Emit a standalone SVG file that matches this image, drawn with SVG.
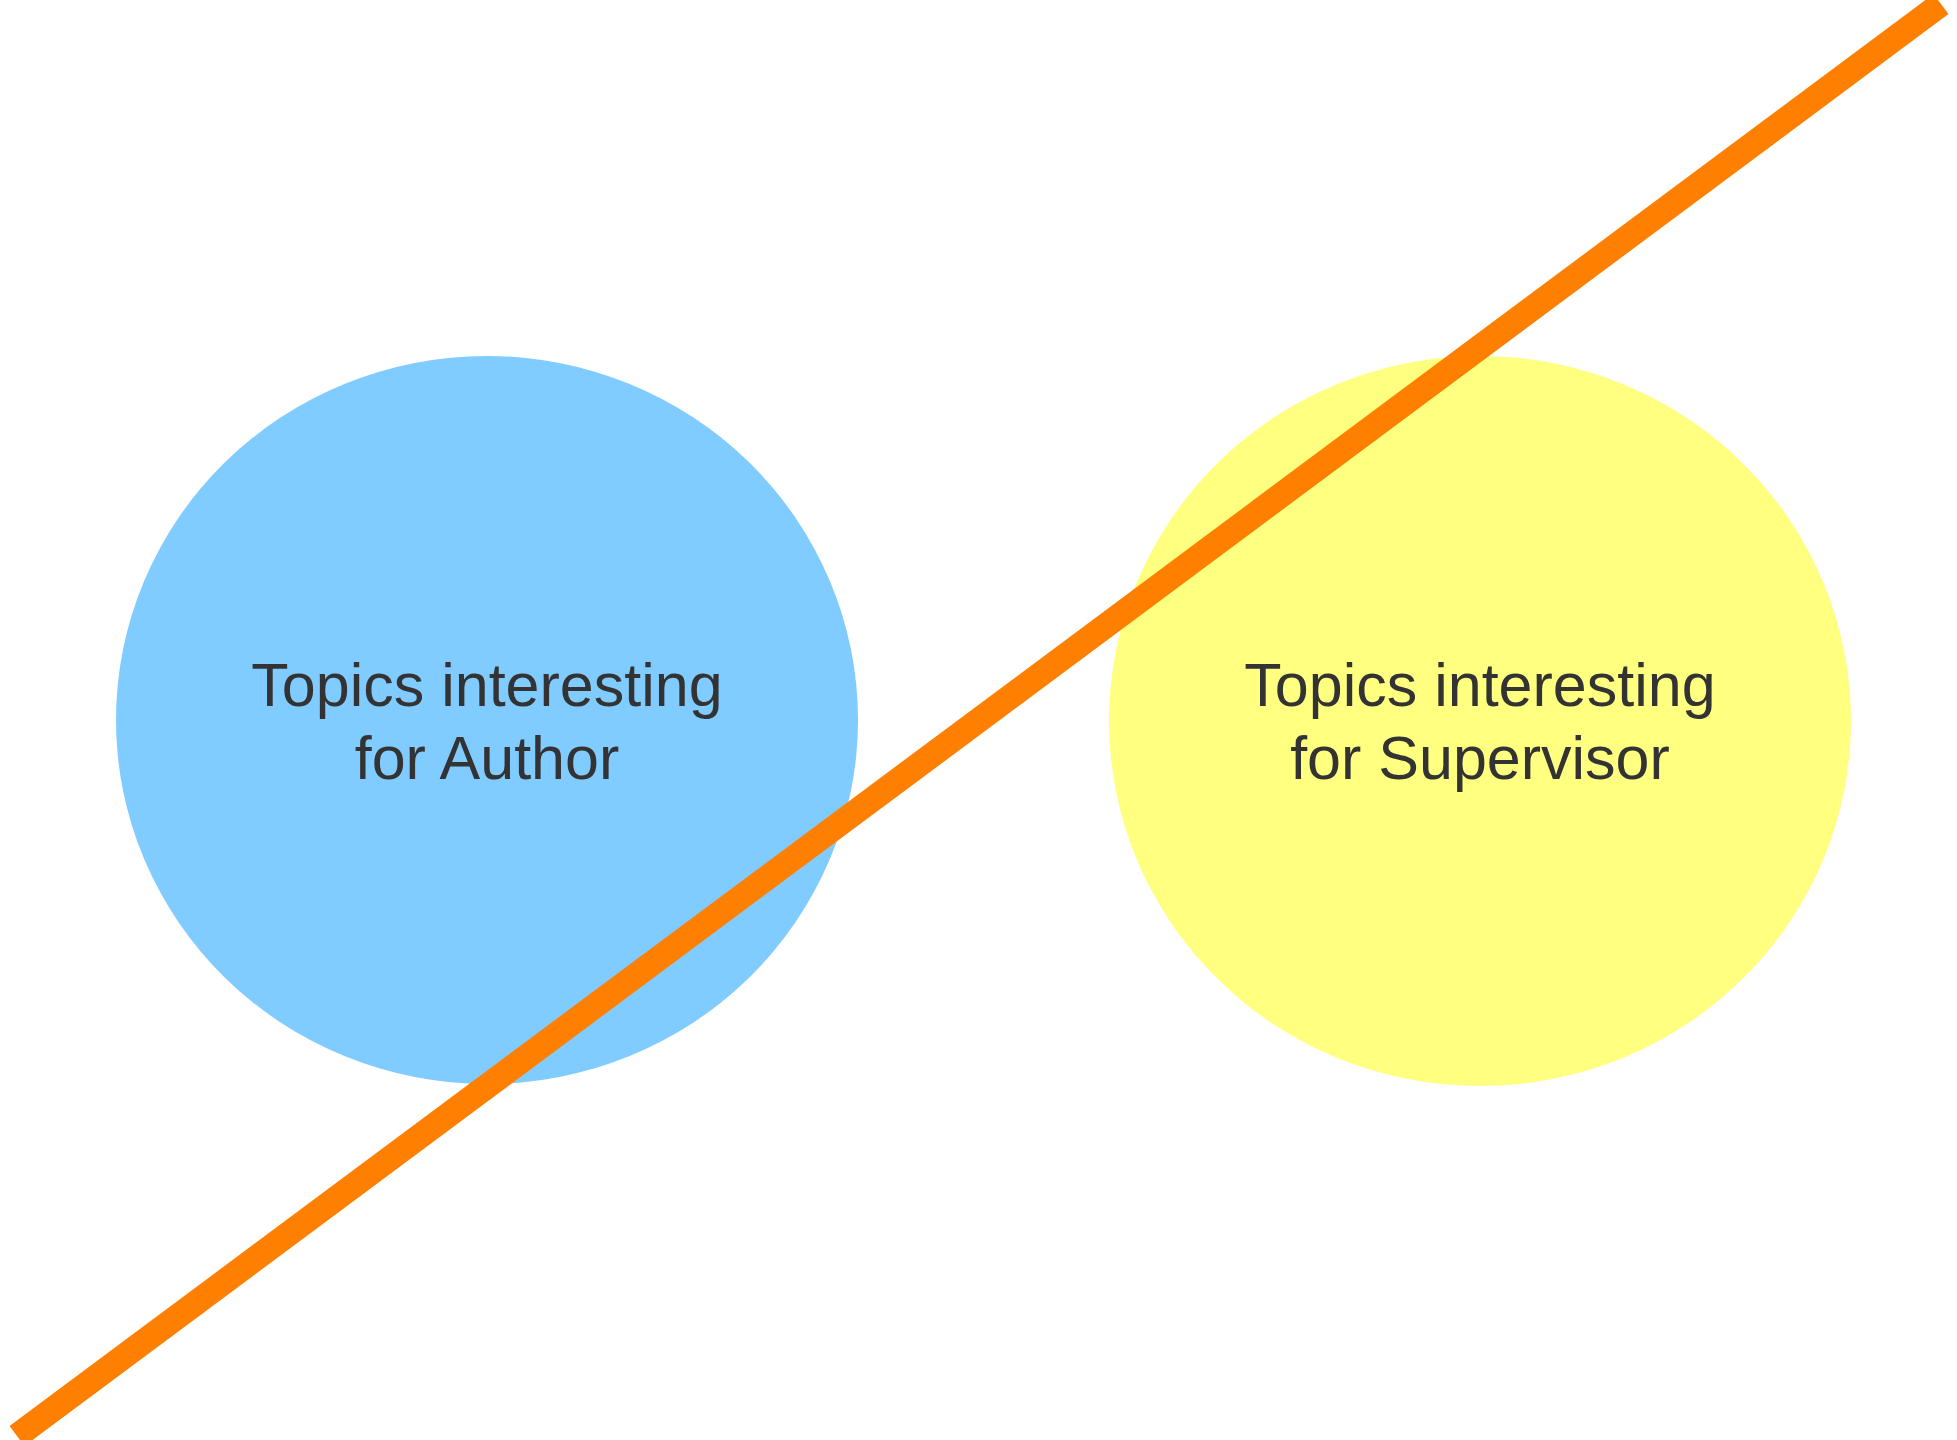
<svg xmlns="http://www.w3.org/2000/svg" width="1957" height="1440" viewBox="0 0 1957 1440">
  <style>
    .label { font-family: "Liberation Sans", Arial, sans-serif; font-size: 61px; fill: #333333; text-anchor: middle; }
    .author { fill: #80CBFF; }
    .supervisor { fill: #FFFF80; }
    .divider { stroke: #FF8000; stroke-width: 25; fill: none; stroke-linecap: butt; }
  </style>
  <rect width="1957" height="1440" fill="#FFFFFF"/>
  <g id="author">
    <ellipse class="author" cx="487" cy="720" rx="371" ry="364"/>
    <text class="label" x="487" y="706">Topics interesting</text>
    <text class="label" x="487" y="779">for Author</text>
  </g>
  <g id="supervisor">
    <ellipse class="supervisor" cx="1480" cy="721" rx="371" ry="365"/>
    <text class="label" x="1480" y="706">Topics interesting</text>
    <text class="label" x="1480" y="779">for Supervisor</text>
  </g>
  <g id="connectors">
    <line class="divider" x1="17" y1="1436" x2="1941" y2="4"/>
  </g>
</svg>
